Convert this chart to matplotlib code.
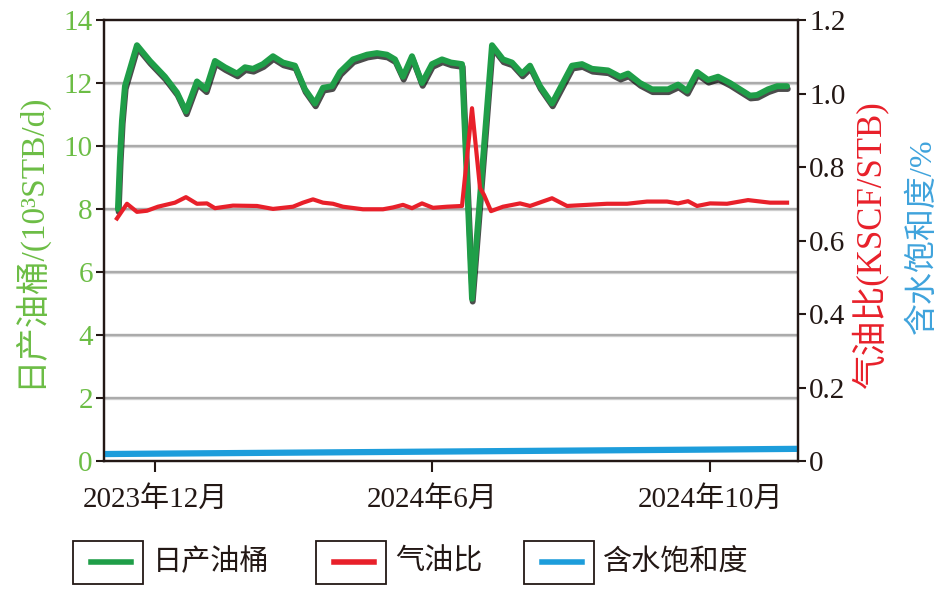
import matplotlib
matplotlib.use('Agg')
import matplotlib.pyplot as plt
import matplotlib.patheffects as pe
from matplotlib.patches import Rectangle
from matplotlib.lines import Line2D

plt.rcParams['font.family'] = ['Liberation Serif', 'Noto Sans CJK SC']

## data (x = day index along the axis)
oil_t = [14, 16, 18, 21, 33, 46, 61, 73, 82, 93, 102, 111, 121, 133, 141, 149, 159, 169,
         179, 191, 201, 211, 219, 228, 236, 249, 263, 273, 283, 291, 299, 308, 318, 328,
         338, 347, 358, 368, 388, 399, 408, 418, 426, 436, 448, 458, 468, 478, 488, 504,
         516, 524, 536, 548, 564, 574, 583, 593, 604, 614, 626, 636, 646, 653, 664, 673, 683]
oil_rate = [8.0, 9.6, 10.8, 11.9, 13.2, 12.7, 12.2, 11.7, 11.1, 12.05, 11.8, 12.7, 12.5,
            12.3, 12.5, 12.45, 12.6, 12.85, 12.65, 12.55, 11.8, 11.35, 11.85, 11.9, 12.35,
            12.75, 12.9, 12.95, 12.9, 12.75, 12.2, 12.85, 12.0, 12.6, 12.75, 12.65, 12.6,
            5.15, 13.2, 12.75, 12.65, 12.3, 12.55, 11.9, 11.35, 11.95, 12.55, 12.6, 12.45,
            12.4, 12.2, 12.3, 12.0, 11.8, 11.8, 11.95, 11.75, 12.35, 12.1, 12.2, 12.0, 11.8,
            11.6, 11.62, 11.8, 11.9, 11.9]

gor_t = [13, 23, 33, 43, 54, 71, 82, 93, 103, 111, 129, 153, 169, 189, 199, 209, 219, 229,
         239, 259, 279, 289, 299, 308, 318, 329, 343, 358, 368, 376, 380, 387, 399, 416,
         426, 448, 463, 483, 503, 523, 543, 563, 574, 584, 593, 606, 623, 644, 666, 683]
gor = [0.66, 0.70, 0.678, 0.681, 0.692, 0.703, 0.718, 0.70, 0.701, 0.688, 0.695, 0.694,
       0.686, 0.692, 0.703, 0.712, 0.703, 0.70, 0.692, 0.685, 0.685, 0.69, 0.697, 0.688,
       0.701, 0.689, 0.692, 0.694, 0.96, 0.743, 0.724, 0.68, 0.692, 0.701, 0.694, 0.715,
       0.694, 0.697, 0.70, 0.70, 0.706, 0.706, 0.701, 0.707, 0.694, 0.701, 0.70, 0.71,
       0.703, 0.703]

sw_t = [2, 200, 400, 600, 690]
sw = [0.019, 0.023, 0.027, 0.031, 0.033]

tick_pos = [51, 328, 606]
tick_labels = ['2023年12月', '2024年6月', '2024年10月']

green = '#1f9e48'
green_txt = '#6cbd45'
red = '#e8202a'
blue = '#1d9ddb'
blue_txt = '#3fa3dc'

fig = plt.figure(figsize=(9.45, 5.96), dpi=100)
ax = fig.add_axes([0.110, 0.2265, 0.7345, 0.7399])
ax2 = ax.twinx()

ax.set_xlim(0, 694)
ax.set_ylim(0, 14)
ax2.set_ylim(0, 1.2)

ax.set_yticks(range(0, 15, 2))
ax2.set_yticks([0, 0.2, 0.4, 0.6, 0.8, 1.0, 1.2])
ax2.set_yticklabels(['0', '0.2', '0.4', '0.6', '0.8', '1.0', '1.2'])
ax.set_xticks(tick_pos)
ax.set_xticklabels(tick_labels)

for y in range(2, 14, 2):
    ax.axhline(y, color='#ababab', lw=1.7, zorder=0,
               path_effects=[pe.SimpleLineShadow(offset=(0, -1), shadow_color='#cccccc', alpha=0.8), pe.Normal()])

ax.plot(oil_t, oil_rate, color=green, lw=4.3, solid_joinstyle='round', solid_capstyle='round',
        path_effects=[pe.SimpleLineShadow(offset=(0.5, -2), shadow_color='k', alpha=0.7), pe.Normal()])
ax2.plot(sw_t, sw, color=blue, lw=4.5)
ax2.plot(gor_t, gor, color=red, lw=3)

for a in (ax, ax2):
    for s in a.spines.values():
        s.set_linewidth(1.6)
        s.set_color('#231815')
ax.tick_params(axis='y', labelsize=21, labelcolor=green_txt, length=6, width=1.5, pad=2, color='#231815')
ax.tick_params(axis='x', labelsize=21, length=8, width=1.5, pad=10, color='#231815', labelcolor='#231815')
ax2.tick_params(axis='y', labelsize=21, length=6, width=1.5, pad=2, color='#231815', labelcolor='#231815')

ax.set_ylabel('日产油桶/(10³STB/d)', fontsize=24, color=green_txt)
ax.yaxis.set_label_coords(-0.083, 0.5)
ax.text(1.104, 0.49, '气油比(KSCF/STB)', transform=ax.transAxes, rotation=90,
        fontsize=25, color=red, ha='center', va='center')
ax.text(1.179, 0.51, '含水饱和度/%', transform=ax.transAxes, rotation=90,
        fontsize=23, color=blue_txt, ha='center', va='center')

## legend, drawn by hand: framed line sample, then label
legend_items = [('日产油桶', green, 73, 153), ('气油比', red, 316, 395), ('含水饱和度', blue, 524, 603)]
W, H = 945.0, 596.0
for label, col, bx, tx in legend_items:
    fig.patches.append(Rectangle((bx / W, 1 - 584 / H), 70 / W, 43 / H, transform=fig.transFigure,
                                 fill=False, ec='#231815', lw=1.3))
    fig.lines.append(Line2D([(bx + 18) / W, (bx + 58) / W], [1 - 562 / H] * 2, transform=fig.transFigure,
                            color=col, lw=4))
    fig.text(tx / W, 1 - 562 / H, label, fontsize=21, va='center', ha='left', color='#231815')

fig.savefig('out.png', dpi=100)
